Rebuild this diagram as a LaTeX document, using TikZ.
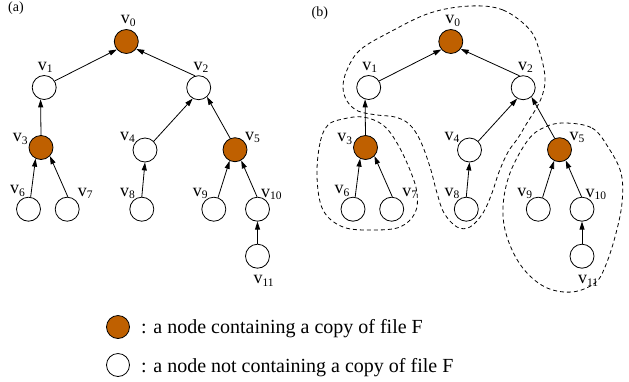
\documentclass[tikz,border=0pt]{standalone}
\usepackage{fontspec}
\setmainfont{Liberation Serif}
\usetikzlibrary{arrows.meta}
\definecolor{filecol}{RGB}{191,96,0}
\tikzset{
  vx/.style={circle,draw,line width=0.8pt,minimum size=24pt,inner sep=0pt,fill=white},
  vf/.style={vx,fill=filecol},
  arr/.style={line width=0.8pt,-{Triangle[length=8pt,width=5pt]}},
  lab/.style={anchor=base west,inner sep=0pt,font=\fontsize{18}{18}\selectfont},
  grp/.style={line width=0.8pt,dash pattern=on 4pt off 3pt},
  tag/.style={anchor=base west,inner sep=0pt,font=\fontsize{14}{14}\selectfont},
  legtext/.style={anchor=base west,inner sep=0pt,font=\fontsize{20}{20}\selectfont}
}
\newcommand\vlab[1]{v\raisebox{-2.7pt}{\fontsize{11.5}{11.5}\selectfont #1}}
\newcommand\mytree{%
  \node[vf] (v0) at (126.3,41.5) {};
  \node[vx] (v1) at (44.2,87.5) {};
  \node[vx] (v2) at (198.7,87.7) {};
  \node[vf] (v3) at (41,147.5) {};
  \node[vx] (v4) at (145,150) {};
  \node[vf] (v5) at (235,149.7) {};
  \node[vx] (v6) at (28.5,209.2) {};
  \node[vx] (v7) at (67.2,209.2) {};
  \node[vx] (v8) at (141.8,209.2) {};
  \node[vx] (v9) at (213.8,209.2) {};
  \node[vx] (v10) at (257.5,209.2) {};
  \node[vx] (v11) at (257.5,256.2) {};
  \node[lab] (l0) at (120.7,23.3) {\vlab{0}};
  \node[lab] (l1) at (37.7,70) {\vlab{1}};
  \node[lab] (l2) at (193.3,70) {\vlab{2}};
  \node[lab] (l3) at (12.7,141.7) {\vlab{3}};
  \node[lab] (l4) at (120,140) {\vlab{4}};
  \node[lab] (l5) at (245,140) {\vlab{5}};
  \node[lab] (l6) at (10,193.3) {\vlab{6}};
  \node[lab] (l7) at (77.7,196) {\vlab{7}};
  \node[lab] (l8) at (120,196) {\vlab{8}};
  \node[lab] (l9) at (192.7,196) {\vlab{9}};
  \node[lab] (l10) at (261,197) {\vlab{10}};
  \node[lab] (l11) at (253.3,283.3) {\vlab{11}};
  \draw[arr] (v1.32) -- (v0.220);
  \draw[arr] (v2.107) -- (v0.-37);
  \draw[arr] (v3.90) -- (v1.253);
  \draw[arr] (v4.45) -- (v2.241);
  \draw[arr] (v5.113) -- (v2.-48);
  \draw[arr] (v6.80) -- (v3.244);
  \draw[arr] (v7.87) -- (v3.-44);
  \draw[arr] (v8.90) -- (v4.270);
  \draw[arr] (v9.70) -- (v5.244);
  \draw[arr] (v10.92) -- (v5.-60);
  \draw[arr] (v11.90) -- (v10.270);
}
\begin{document}
\begin{tikzpicture}[x=1pt,y=-1pt]
\useasboundingbox (0,0) rectangle (629,381);
% labels
\node[tag] (ta) at (8,11) {(a)};
\node[tag] (tb) at (311.5,16) {(b)};
% dashed groups in (b)
\draw[grp] plot[smooth cycle,tension=0.6] coordinates {
  (470,6) (503,10) (530,30) (540,53) (545,77) (543,93) (537,107) (527,123)
  (518,138) (508,152) (499,172) (492,193) (483,213) (470,227) (457,227)
  (444,213) (437,193) (430,167) (420,140) (409,124) (395,117) (377,115)
  (358,111) (347,101) (343,87) (347,70) (360,50) (390,32) (430,13)};
\draw[grp] plot[smooth cycle,tension=0.6] coordinates {
  (328,125) (320,143) (317,177) (323,210) (343,227) (373,230) (400,227)
  (415,213) (417,193) (410,170) (397,143) (383,125) (363,117) (343,119)};
\draw[grp] plot[smooth cycle,tension=0.6] coordinates {
  (565,123) (592,128) (608,147) (621,173) (622,203) (615,237) (605,267)
  (595,283) (572,292) (545,287) (522,267) (507,237) (503,207) (510,173)
  (528,140) (545,127)};
% trees
\begin{scope}[name prefix=a-]
\mytree
\end{scope}
\begin{scope}[xshift=324.5pt,name prefix=b-]
\mytree
\end{scope}
% legend
\node[vf,minimum size=23pt] (k1) at (118,327) {};
\node[vx,minimum size=23pt] (k2) at (118,365) {};
\node[legtext] (t1) at (141,333.5) {: a node containing a copy of file F};
\node[legtext] (t2) at (141,372.5) {: a node not containing a copy of file F};
\end{tikzpicture}
\end{document}
